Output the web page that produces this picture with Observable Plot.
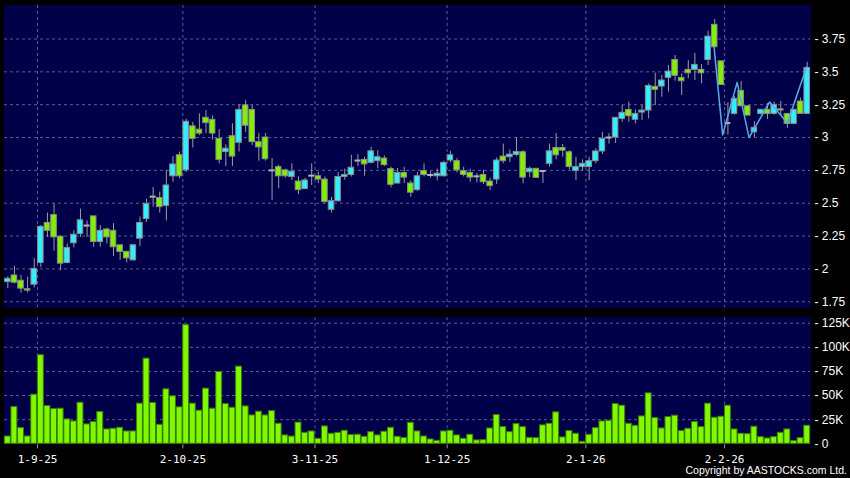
<!DOCTYPE html>
<html><head><meta charset="utf-8">
<script src="https://cdn.jsdelivr.net/npm/d3@7"></script>
<script src="https://cdn.jsdelivr.net/npm/@observablehq/plot@0.6"></script>
<style>
html,body{margin:0;padding:0;background:#000;}
#chart{position:relative;width:850px;height:478px;background:#000;overflow:hidden;}
#chart svg{display:block;}
#copy{position:absolute;right:3px;top:464px;color:#fff;font:10.5px "Liberation Sans",Arial,sans-serif;white-space:nowrap;}
</style></head><body>
<div id="chart"><div id="copy">Copyright by AASTOCKS.com Ltd.</div></div>
<script>
// ---- data ----
const opens = [1.90,1.95,1.91,1.845,1.88,2.045,2.35,2.41,2.245,2.045,2.195,2.265,2.33,2.40,2.205,2.30,2.29,2.18,2.13,2.065,
2.23,2.38,2.55,2.54,2.48,2.705,2.865,2.75,3.085,3.06,3.15,3.135,2.99,2.89,3.01,2.96,3.245,3.21,2.965,3.00,
2.75,2.775,2.75,2.70,2.665,2.607,2.71,2.705,2.68,2.45,2.515,2.70,2.715,2.825,2.83,2.807,2.82,2.84,2.76,2.65,
2.73,2.65,2.60,2.745,2.715,2.705,2.705,2.825,2.82,2.745,2.73,2.705,2.715,2.665,2.68,2.855,2.85,2.868,2.888,2.736,
2.762,2.745,2.80,2.92,2.92,2.888,2.745,2.775,2.775,2.82,2.894,3.00,3.00,3.142,3.21,3.135,3.19,3.205,3.386,3.388,
3.454,3.59,3.454,3.515,3.515,3.515,3.59,3.858,3.58,3.11,3.18,3.355,3.238,3.04,3.18,3.211,3.18,3.215,3.18,3.104,
3.274,3.18];
const highs = [1.94,2.02,1.95,1.937,2.08,2.33,2.425,2.495,2.25,2.19,2.29,2.455,2.365,2.40,2.33,2.31,2.345,2.18,2.13,2.18,
2.395,2.53,2.62,2.585,2.75,2.855,2.89,3.14,3.115,3.18,3.205,3.165,3.06,2.945,3.105,3.25,3.28,3.245,3.03,3.03,
2.84,2.79,2.76,2.80,2.70,2.69,2.80,2.735,2.70,2.545,2.735,2.76,2.865,2.87,2.85,2.925,2.90,2.86,2.775,2.765,
2.775,2.67,2.735,2.80,2.74,2.76,2.82,2.895,2.84,2.775,2.76,2.725,2.75,2.69,2.845,2.95,2.905,3.00,2.90,2.775,
2.765,2.75,2.95,3.03,2.947,2.90,2.85,2.83,2.85,2.915,3.04,3.03,3.15,3.245,3.27,3.21,3.245,3.408,3.49,3.472,
3.548,3.624,3.485,3.586,3.64,3.555,3.81,3.898,3.58,3.265,3.31,3.426,3.24,3.12,3.21,3.259,3.27,3.274,3.18,3.211,
3.30,3.573];
const lows = [1.85,1.885,1.815,1.818,1.855,2.01,2.24,2.135,1.985,2.04,2.16,2.24,2.24,2.165,2.165,2.19,2.095,2.065,2.045,2.06,
2.17,2.355,2.47,2.425,2.365,2.66,2.685,2.735,2.92,3.015,3.03,2.98,2.80,2.78,2.78,2.89,3.04,2.94,2.82,2.82,
2.52,2.61,2.69,2.673,2.565,2.605,2.635,2.65,2.495,2.425,2.51,2.675,2.70,2.78,2.705,2.80,2.762,2.78,2.617,2.645,
2.65,2.545,2.59,2.70,2.69,2.67,2.70,2.807,2.73,2.70,2.66,2.655,2.643,2.597,2.643,2.80,2.81,2.855,2.648,2.695,
2.69,2.65,2.775,2.83,2.85,2.755,2.673,2.745,2.673,2.80,2.87,2.95,2.955,3.116,3.116,3.105,3.13,3.142,3.244,3.307,
3.345,3.43,3.32,3.447,3.434,3.41,3.548,3.687,3.40,3.02,3.17,3.238,3.165,3.00,3.17,3.137,3.17,3.167,3.07,3.10,
3.18,3.18];
const closes = [1.925,1.895,1.85,1.835,2.00,2.32,2.29,2.24,2.04,2.16,2.26,2.37,2.33,2.205,2.29,2.24,2.165,2.13,2.08,2.18,
2.35,2.495,2.55,2.47,2.635,2.795,2.705,3.12,2.99,3.03,3.11,3.03,2.83,2.915,2.855,3.21,3.09,2.965,2.925,2.835,
2.75,2.705,2.705,2.74,2.60,2.673,2.71,2.68,2.51,2.515,2.70,2.715,2.77,2.825,2.795,2.895,2.85,2.79,2.64,2.73,
2.695,2.58,2.705,2.715,2.715,2.725,2.807,2.865,2.75,2.715,2.695,2.705,2.66,2.63,2.825,2.82,2.87,2.89,2.695,2.762,
2.693,2.745,2.895,2.865,2.90,2.775,2.775,2.80,2.82,2.894,2.99,3.00,3.15,3.188,3.162,3.18,3.205,3.393,3.363,3.434,
3.502,3.47,3.429,3.489,3.553,3.489,3.768,3.687,3.40,3.11,3.294,3.238,3.167,3.074,3.211,3.18,3.249,3.205,3.104,3.211,
3.18,3.53];
// volume in thousands of shares
const volumesK = [7.6,38.1,16.3,7.6,50.9,91.8,39.1,36.0,36.4,25.3,23.2,42.6,20.1,22.5,32.9,14.9,15.6,16.6,12.8,12.8,
41.6,88.3,42.3,19.7,56.5,49.2,37.8,123,41.6,34.3,57.2,36.4,74.5,41.2,37.4,80.0,38.8,29.4,33.3,29.4,
33.9,20.8,8.7,7.5,22.0,11.4,12.8,5.2,18.0,10.4,11.4,13.5,9.0,9.4,7.3,12.1,8.7,12.5,16.6,7.3,
5.9,21.8,12.8,7.6,4.5,3.1,12.8,13.5,8.7,5.2,9.4,3.5,3.8,15.9,29.8,17.3,12.1,20.4,17.3,6.2,
5.9,19.1,20.8,32.6,6.6,13.2,10.4,2.1,9.4,16.3,23.2,23.9,41.2,39.5,20.8,18.7,28.4,52.3,26.7,15.9,
27.7,29.1,13.2,15.6,22.5,17.3,41.6,27.0,28.1,39.5,14.9,10.4,10.0,17.7,6.9,5.5,6.9,11.4,14.9,2.8,
5.9,18.7];
// zigzag overlay (bar position, price)
const zigPos = [106.9,108.2,110.4,112.2,115.3,118.0,120.9];
const zigVal = [3.69,3.02,3.42,3.00,3.27,3.11,3.535];
// axis ticks
const priceTicks = [1.75,2,2.25,2.5,2.75,3,3.25,3.5,3.75];
const volumeTicksK = [0,25,50,75,100,125];
const monthLabels = ["1-9-25","2-10-25","3-11-25","1-12-25","2-1-26","2-2-26"];
const monthFirstBar = [5,27,47,67,88,109];

// ---- styles ----
const PANEL = "#000048", GRID = "#5a5a9e", CYAN = "#33eeff", GREEN = "#80f000";
const BORDER = "#8c8c8c", WICK = "#9c9c9c", ZIG = "#5aaae8";
const VOLFILL = "#80f800", VOLSTROKE = "#3a7d00";

const candles = opens.map((o, i) => ({i, open: o, high: highs[i], low: lows[i], close: closes[i]}));
const ups = candles.filter(d => d.close > d.open);
const downs = candles.filter(d => d.close < d.open);
const dojis = candles.filter(d => d.close === d.open);
const vols = volumesK.map((v, i) => ({i, v}));
const zig = zigPos.map((x, k) => ({x, y: zigVal[k]}));
const boundaries = monthFirstBar.map(i => i - 0.5);
const labelOf = new Map(boundaries.map((b, k) => [b, monthLabels[k]]));
const xDomain = [-0.5, opens.length - 0.5];
const font = "'Liberation Sans', Arial, sans-serif";

const price = Plot.plot({
  width: 850, height: 312,
  marginTop: 5, marginBottom: 4.7, marginLeft: 4, marginRight: 40,
  style: {background: "transparent", color: "#fff", fontFamily: font, fontSize: "12px", overflow: "visible"},
  x: {domain: xDomain, axis: null},
  y: {domain: [1.704, 4.005], axis: "right", ticks: priceTicks, tickFormat: d => "- " + d, tickSize: 0, tickPadding: 4, label: null},
  marks: [
    Plot.frame({fill: PANEL, stroke: PANEL}),
    Plot.ruleY(priceTicks, {stroke: GRID, strokeDasharray: "3,3"}),
    Plot.ruleX(boundaries, {stroke: GRID, strokeDasharray: "3,3"}),
    Plot.ruleX(candles, {x: "i", y1: "low", y2: "high", stroke: WICK}),
    Plot.rect(ups, {x1: d => d.i - 0.42, x2: d => d.i + 0.42, y1: "open", y2: "close", fill: CYAN, stroke: BORDER}),
    Plot.rect(downs, {x1: d => d.i - 0.42, x2: d => d.i + 0.42, y1: "open", y2: "close", fill: GREEN, stroke: BORDER}),
    Plot.ruleY(dojis, {y: "open", x1: d => d.i - 0.45, x2: d => d.i + 0.45, stroke: "#b4b4b4", strokeWidth: 2}),
    Plot.line(zig, {x: "x", y: "y", stroke: ZIG, strokeWidth: 1.5})
  ]
});

const volume = Plot.plot({
  width: 850, height: 166,
  marginTop: 5.3, marginBottom: 34.7, marginLeft: 4, marginRight: 40,
  style: {background: "transparent", color: "#fff", fontFamily: font, fontSize: "12px", overflow: "visible"},
  x: {domain: xDomain, axis: "bottom", ticks: boundaries, tickFormat: d => labelOf.get(d), tickSize: 5, tickPadding: 6, label: null},
  y: {domain: [0, 130.6], axis: "right", ticks: volumeTicksK, tickFormat: d => "- " + (d ? d + "K" : "0"), tickSize: 0, tickPadding: 4, label: null},
  marks: [
    Plot.frame({fill: PANEL, stroke: PANEL}),
    Plot.ruleY(volumeTicksK.filter(d => d > 0), {stroke: GRID, strokeDasharray: "3,3"}),
    Plot.ruleX(boundaries, {stroke: GRID, strokeDasharray: "3,3"}),
    Plot.rect(vols, {x1: d => d.i - 0.45, x2: d => d.i + 0.45, y1: 0, y2: "v", fill: VOLFILL, stroke: VOLSTROKE})
  ]
});

const chart = document.getElementById("chart");
chart.insertBefore(volume, chart.firstChild);
chart.insertBefore(price, volume);
d3.select(volume).selectAll('[aria-label^="x-axis"] text')
  .style("font-family", "'DejaVu Sans Mono', monospace").style("font-size", "11px");
d3.select(volume).selectAll('[aria-label^="x-axis"] path, [aria-label^="x-axis"] line').attr("stroke", "#999");
</script>
</body></html>
